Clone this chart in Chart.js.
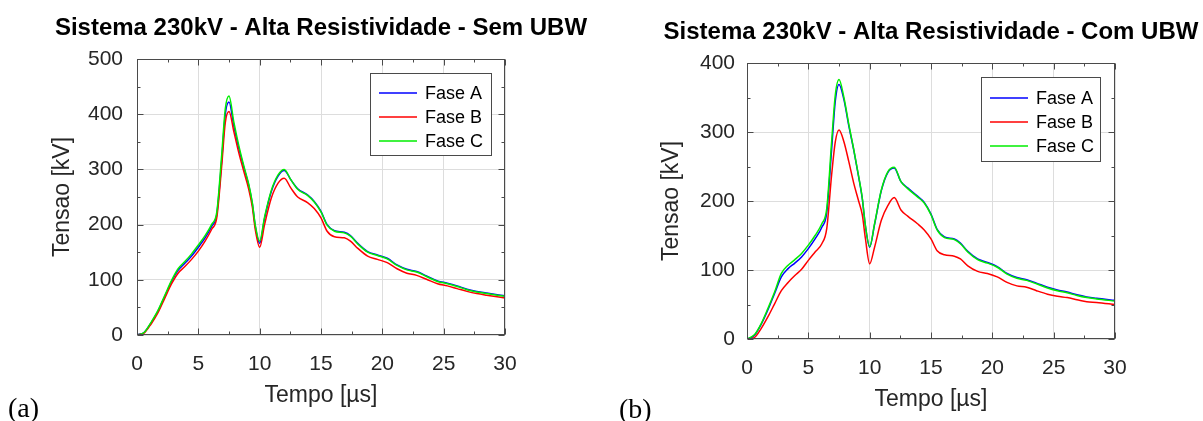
<!DOCTYPE html>
<html>
<head>
<meta charset="utf-8">
<script src="https://cdn.jsdelivr.net/npm/chart.js@4.4.0/dist/chart.umd.min.js"></script>
<style>
  html, body { margin: 0; padding: 0; background: #fff; overflow: hidden; }
  body { width: 1203px; height: 421px; position: relative; }
  canvas { position: absolute; top: 0; }
  #graficoSem { left: 0; }
  #graficoCom { left: 600px; }
</style>
</head>
<body>
<canvas id="graficoSem" width="642" height="421"></canvas>
<canvas id="graficoCom" width="603" height="421"></canvas>
<script>
// tempo em microssegundos
const tempo = [0, 0.6, 1.15, 1.7, 2.25, 2.8, 3.35, 3.9, 4.45, 5,
  5.55, 6.1, 6.5, 6.9, 7.2, 7.5, 7.9, 8.3, 8.7, 9.1,
  9.4, 9.65, 10, 10.4, 10.95, 11.5, 12, 12.55, 13.1, 13.9,
  14.45, 15, 15.5, 16.1, 16.9, 17.4, 18, 18.8, 19.6, 20.4,
  21.2, 22, 22.8, 23.6, 24.5, 25.3, 26.1, 26.9, 27.7, 28.5, 30];

const fases = ['Fase A', 'Fase B', 'Fase C'];

// (a) sem UBW, tensao em kV
const semFaseA = [0, 5, 22, 43, 69, 96, 117, 130, 143, 159,
  176, 197, 218, 315, 400, 422, 378, 338, 304, 272,
  238, 196, 166, 211, 260, 288, 298, 281, 265, 254,
  242, 224, 200, 189, 186, 180, 166, 151, 145, 139,
  127, 119, 115, 107, 98, 94, 89, 83, 79, 76, 71];
const semFaseB = [0, 4, 20, 40, 66, 92, 112, 124, 137, 152,
  170, 192, 212, 305, 385, 405, 368, 330, 297, 265,
  232, 190, 159, 200, 248, 275, 284, 266, 250, 240,
  229, 212, 188, 178, 176, 170, 157, 143, 137, 131,
  120, 112, 108, 101, 93, 89, 84, 79, 75, 72, 67];
const semFaseC = [0, 5, 23, 44, 71, 98, 120, 133, 147, 163,
  180, 201, 222, 325, 410, 433, 385, 343, 307, 274,
  240, 198, 170, 214, 262, 290, 300, 281, 264, 253,
  241, 223, 199, 188, 185, 179, 165, 150, 144, 138,
  126, 118, 114, 106, 97, 93, 88, 82, 78, 75, 70];

// (b) com UBW, tensao em kV
const comFaseA = [0, 5, 21, 42, 66, 90, 102, 110, 119, 131,
  145, 162, 183, 275, 345, 369, 347, 309, 274, 235,
  203, 164, 133, 166, 215, 242, 248, 228, 219, 207,
  198, 181, 159, 148, 145, 139, 127, 116, 111, 105,
  95, 89, 86, 81, 75, 71, 68, 64, 61, 59, 56];
const comFaseB = [0, 2, 15, 32, 51, 70, 82, 92, 101, 114,
  126, 138, 160, 238, 286, 303, 286, 257, 226, 200,
  180, 146, 109, 133, 172, 194, 205, 187, 178, 167,
  158, 145, 128, 122, 120, 116, 106, 98, 95, 90,
  82, 77, 75, 70, 65, 62, 60, 57, 54, 53, 50];
const comFaseC = [0, 6, 22, 44, 68, 95, 107, 115, 124, 136,
  150, 167, 189, 286, 354, 376, 350, 311, 275, 236,
  204, 165, 134, 167, 216, 243, 249, 228, 218, 206,
  197, 180, 158, 147, 144, 138, 126, 115, 110, 104,
  94, 88, 85, 80, 74, 70, 67, 63, 60, 58, 55];

const cores = ['#0000ff', '#ff0000', '#00ee00'];
const fonte = 'Liberation Sans, Arial, Helvetica, sans-serif';
const corTexto = '#262626';

// caixa do eixo (estilo matlab) com ticks para dentro
const moldura = {
  id: 'moldura',
  afterDatasetsDraw(chart) {
    const {ctx, chartArea: a, scales: {x, y}} = chart;
    const L = Math.round(a.left) + 0.5, R = Math.round(a.right) - 0.5;
    const T = Math.round(a.top) + 0.5, B = Math.round(a.bottom) - 0.5;
    ctx.save();
    ctx.strokeStyle = '#4a4a4a';
    ctx.lineWidth = 1;
    ctx.beginPath();
    const passoX = x.options.ticks.stepSize / 2;
    for (let v = x.min; v <= x.max + 1e-9; v += passoX) {
      const px = Math.round(x.getPixelForValue(v)) + 0.5;
      const len = Math.abs((v / x.options.ticks.stepSize) % 1) < 1e-6 ? 6 : 3;
      ctx.moveTo(px, B); ctx.lineTo(px, B - len);
      ctx.moveTo(px, T); ctx.lineTo(px, T + len);
    }
    const passoY = y.options.ticks.stepSize / 2;
    for (let v = y.min; v <= y.max + 1e-9; v += passoY) {
      const py = Math.round(y.getPixelForValue(v)) + 0.5;
      const len = Math.abs((v / y.options.ticks.stepSize) % 1) < 1e-6 ? 6 : 3;
      ctx.moveTo(L, py); ctx.lineTo(L + len, py);
      ctx.moveTo(R, py); ctx.lineTo(R - len, py);
    }
    ctx.stroke();
    ctx.strokeRect(L, T, R - L, B - T);
    ctx.restore();
  }
};

// titulo centrado sobre a area do grafico, legenda interna e rotulo (a)/(b)
const textosExtras = {
  id: 'textosExtras',
  afterDraw(chart, args, opts) {
    const ctx = chart.ctx;
    const a = chart.chartArea;
    ctx.save();
    ctx.font = 'bold 24px ' + fonte;
    ctx.fillStyle = '#000';
    ctx.textAlign = 'center';
    ctx.textBaseline = 'middle';
    ctx.fillText(opts.titulo, (a.left + a.right) / 2, opts.tituloY);

    ctx.textAlign = 'left';
    ctx.fillStyle = '#fff';
    ctx.fillRect(opts.x, opts.y, opts.w, opts.h);
    ctx.strokeStyle = '#4a4a4a';
    ctx.lineWidth = 1;
    ctx.strokeRect(opts.x + 0.5, opts.y + 0.5, opts.w, opts.h);
    ctx.font = '18px ' + fonte;
    fases.forEach((nome, i) => {
      const yy = opts.y + opts.primeira + i * opts.passo;
      ctx.strokeStyle = cores[i];
      ctx.lineWidth = 1.3;
      ctx.beginPath();
      ctx.moveTo(opts.x + 9, yy);
      ctx.lineTo(opts.x + 47, yy);
      ctx.stroke();
      ctx.fillStyle = '#000';
      ctx.fillText(nome, opts.x + 55, yy + 1);
    });

    ctx.font = '28px Liberation Serif, Times New Roman, serif';
    ctx.textBaseline = 'alphabetic';
    ctx.fillStyle = '#000';
    ctx.fillText(opts.rotulo, opts.rx, opts.ry);
    ctx.restore();
  }
};

function pontos(valores) {
  return valores.map((v, i) => ({x: tempo[i], y: v}));
}

function criarGrafico(id, serieA, serieB, serieC, cfg) {
  const ctx = document.getElementById(id).getContext('2d');
  const series = [serieA, serieB, serieC];
  const ordem = [2, 1, 0];
  return new Chart(ctx, {
    type: 'line',
    data: {
      datasets: series.map((s, i) => ({
        label: fases[i],
        data: pontos(s),
        borderColor: cores[i],
        borderWidth: 1.5,
        pointRadius: 0,
        fill: false,
        cubicInterpolationMode: 'monotone',
        order: ordem[i]
      }))
    },
    options: {
      responsive: false,
      animation: false,
      devicePixelRatio: 1,
      layout: { padding: { left: 0, right: cfg.dir, top: cfg.topo, bottom: 0 } },
      plugins: {
        legend: { display: false },
        tooltip: { enabled: false },
        title: { display: false },
        textosExtras: cfg.extras
      },
      scales: {
        x: {
          type: 'linear',
          min: 0, max: 30,
          afterFit: s => { s.height = cfg.alturaX; },
          ticks: { stepSize: 5, color: corTexto, padding: cfg.padTickX,
                   font: { family: fonte, size: 21 }, maxRotation: 0 },
          grid: { color: '#dddddd', lineWidth: 1, drawTicks: false },
          border: { display: false },
          title: { display: true, text: 'Tempo [µs]', color: corTexto,
                   font: { family: fonte, size: 23, lineHeight: 1.2 },
                   padding: { top: 0, bottom: cfg.padTituloX } }
        },
        y: {
          min: 0, max: cfg.yMax,
          afterFit: s => { s.width = cfg.larguraY; },
          ticks: { stepSize: 100, color: corTexto, padding: cfg.padTickY,
                   font: { family: fonte, size: 21 } },
          grid: { color: '#dddddd', lineWidth: 1, drawTicks: false },
          border: { display: false },
          title: { display: true, text: 'Tensao [kV]', color: corTexto,
                   font: { family: fonte, size: 23, lineHeight: 1.2 },
                   padding: { top: cfg.padTituloY, bottom: 0 } }
        }
      }
    },
    plugins: [moldura, textosExtras]
  });
}

criarGrafico('graficoSem', semFaseA, semFaseB, semFaseC, {
  dir: 137, topo: 59, yMax: 500, larguraY: 137, alturaX: 86,
  padTickX: 17, padTituloX: 12, padTickY: 14, padTituloY: 49,
  extras: { titulo: 'Sistema 230kV - Alta Resistividade - Sem UBW', tituloY: 28,
            x: 370, y: 73, w: 121, h: 82, primeira: 20, passo: 24,
            rotulo: '(a)', rx: 8, ry: 417 }
});

criarGrafico('graficoCom', comFaseA, comFaseB, comFaseC, {
  dir: 88, topo: 63, yMax: 400, larguraY: 147, alturaX: 82,
  padTickX: 17, padTituloX: 8, padTickY: 12, padTituloY: 58,
  extras: { titulo: 'Sistema 230kV - Alta Resistividade - Com UBW', tituloY: 32,
            x: 381, y: 77, w: 119, h: 84, primeira: 21, passo: 24,
            rotulo: '(b)', rx: 19, ry: 418 }
});
</script>
</body>
</html>
